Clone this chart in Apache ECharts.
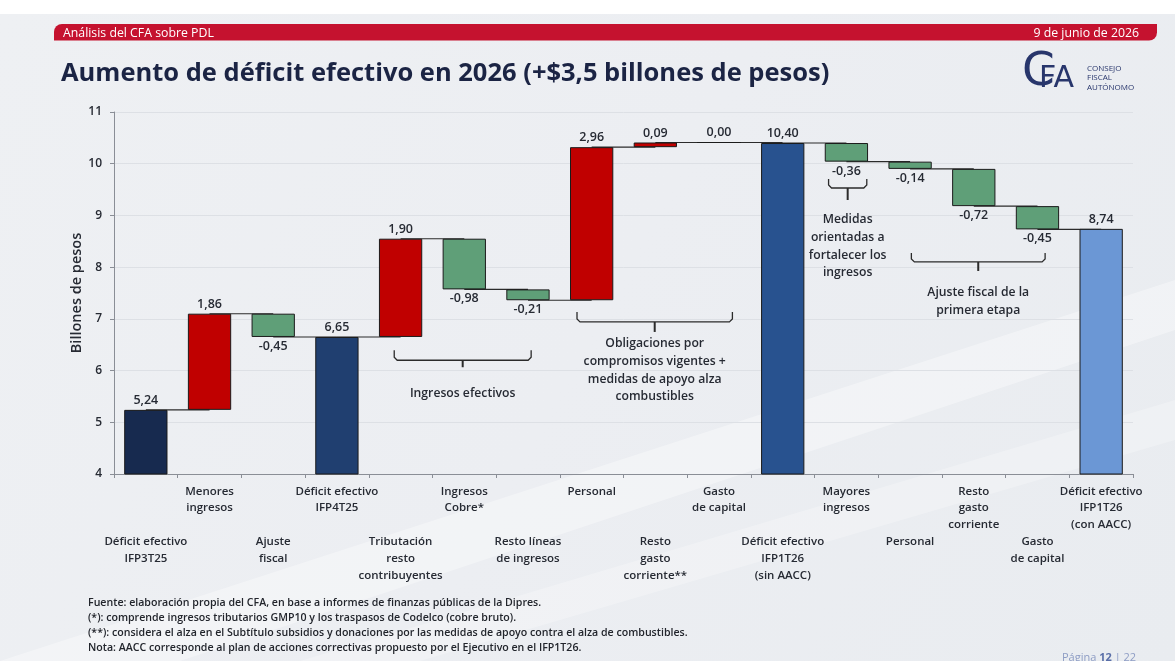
<!DOCTYPE html>
<html><head><meta charset="utf-8">
<script src="https://cdn.jsdelivr.net/npm/echarts@6/dist/echarts.min.js"></script>
<style>html,body{margin:0;padding:0;background:#fff;}#c{width:1175px;height:661px;}</style>
</head><body><div id="c"></div>
<script>
// ---------- data ----------
const categories = [
  'Déficit efectivo\nIFP3T25', 'Menores\ningresos', 'Ajuste\nfiscal', 'Déficit efectivo\nIFP4T25',
  'Tributación\nresto\ncontribuyentes', 'Ingresos\nCobre*', 'Resto líneas\nde ingresos', 'Personal',
  'Resto\ngasto\ncorriente**', 'Gasto\nde capital', 'Déficit efectivo\nIFP1T26\n(sin AACC)', 'Mayores\ningresos',
  'Personal', 'Resto\ngasto\ncorriente', 'Gasto\nde capital', 'Déficit efectivo\nIFP1T26\n(con AACC)'
];
const values = [5.24, 1.86, -0.45, 6.65, 1.90, -0.98, -0.21, 2.96, 0.09, 0.00, 10.40, -0.36, -0.14, -0.72, -0.45, 8.74];
const isTotal = [true, false, false, true, false, false, false, false, false, false, true, false, false, false, false, true];
const yMin = 4, yMax = 11, yStep = 1;
const bracketGroups = [[4, 6], [7, 9], [11, 11], [12, 14]];
const bracketLabels = [
  'Ingresos efectivos',
  'Obligaciones por\ncompromisos vigentes +\nmedidas de apoyo alza\ncombustibles',
  'Medidas\norientadas a\nfortalecer los\ningresos',
  'Ajuste fiscal de la\nprimera etapa'
];
const headerLeft = 'Análisis del CFA sobre PDL';
const headerRight = '9 de junio de 2026';
const titleText = 'Aumento de déficit efectivo en 2026 (+$3,5 billones de pesos)';
const yAxisName = 'Billones de pesos';
const logoSmall = 'CONSEJO\nFISCAL\nAUTÓNOMO';
const footnotes = [
  'Fuente: elaboración propia del CFA, en base a informes de finanzas públicas de la Dipres.',
  '(*): comprende ingresos tributarios GMP10 y los traspasos de Codelco (cobre bruto).',
  '(**): considera el alza en el Subtítulo subsidios y donaciones por las medidas de apoyo contra el alza de combustibles.',
  'Nota: AACC corresponde al plan de acciones correctivas propuesto por el Ejecutivo en el IFP1T26.'
];

// ---------- styles ----------
const FONT = '"Open Sans", Lato, sans-serif';
const INK = '#262a33';
const NAVY = '#28366c';
const totalColors = ['#172a4f', '#203f70', '#28528f', '#6b97d5'];
const upColor = '#c00000';
const downColor = '#5f9f78';
const bracketGeom = [
  { dl: -0.10, dr: 0.05, line: 6.20, hook: 10, tick: 7, textDy: 17 },
  { dl: -0.23, dr: 0.21, line: 6.94, hook: 10, tick: 10, textDy: 3 },
  { dl: -0.28, dr: 0.32, line: 9.53, hook: 9, tick: 12, textDy: 11 },
  { dl: 0.02, dr: 0.12, line: 8.10, hook: 9, tick: 9, textDy: 13 }
];

// ---------- waterfall computation ----------
let running = 0, totalIdx = 0;
const baseData = [], barData = [], levels = [];
const fmt = v => v.toFixed(2).replace('.', ',');
values.forEach((v, i) => {
  if (isTotal[i]) {
    baseData.push(0); running = v;
    barData.push({ value: v, itemStyle: { color: totalColors[totalIdx++] }, label: { position: 'top' } });
  } else {
    const s = running, e = running + v;
    baseData.push(Math.min(s, e));
    barData.push({
      value: Math.abs(v),
      itemStyle: { color: v >= 0 ? upColor : downColor },
      label: { position: v >= 0 ? 'top' : 'bottom' }
    });
    running = e;
  }
  levels.push(running);
});
const connectorData = levels.slice(0, -1).map((l, i) => [i, l]);

const chart = echarts.init(document.getElementById('c'), null, { renderer: 'canvas' });

const option = {
  backgroundColor: 'transparent',
  animation: false,
  grid: { left: 114, right: 42, top: 112, bottom: 187, containLabel: false },
  graphic: [
    { type: 'rect', z: -10, shape: { x: 0, y: 0, width: 1175, height: 661 }, style: { fill: '#ffffff' } },
    { type: 'rect', z: -9, shape: { x: 0, y: 14, width: 1175, height: 647 },
      style: { fill: new echarts.graphic.LinearGradient(0, 0, 1, 1, [
        { offset: 0, color: '#eef0f3' }, { offset: 0.5, color: '#eceef2' }, { offset: 1, color: '#e9ecf0' }]) } },
    { type: 'polygon', z: -8, shape: { points: [[0, 661], [180, 661], [1175, 330], [1175, 280]] },
      style: { fill: 'rgba(255,255,255,0.35)' } },
    { type: 'polygon', z: -8, shape: { points: [[300, 661], [420, 661], [1175, 440], [1175, 400]] },
      style: { fill: 'rgba(255,255,255,0.25)' } },
    { type: 'rect', shape: { x: 54, y: 24, width: 1103, height: 16.5, r: [8, 0, 8, 0] }, style: { fill: '#c5122f' } },
    { type: 'text', style: { text: headerLeft, x: 63, y: 33, verticalAlign: 'middle', fill: '#fff',
      font: '12.3px ' + FONT } },
    { type: 'text', style: { text: headerRight, x: 1139, y: 33, align: 'right', verticalAlign: 'middle', fill: '#fff',
      font: '12.3px ' + FONT } },
    { type: 'text', style: { text: titleText, x: 61, y: 74, verticalAlign: 'middle', fill: '#1b2444',
      font: 'bold 25.5px ' + FONT } },
    { type: 'text', style: { text: 'C', x: 1022, y: 73, verticalAlign: 'middle', fill: NAVY,
      font: '47px "DejaVu Sans"' } },
    { type: 'text', style: { text: 'FA', x: 1039, y: 79, verticalAlign: 'middle', fill: NAVY,
      font: '30px "DejaVu Sans"' } },
    { type: 'text', style: { text: logoSmall, x: 1087, y: 78, verticalAlign: 'middle', fill: NAVY,
      font: '8px ' + FONT, lineHeight: 9.3 } },
    { type: 'text', style: { text: footnotes.join('\n'), x: 88, y: 595, fill: '#22252c',
      font: '600 10.6px ' + FONT, lineHeight: 15 } },
    { type: 'text', style: { text: '{a|Página }{b|12}{a| | 22}', x: 1062, y: 658, verticalAlign: 'middle',
      rich: { a: { fill: '#8d9cc4', font: '11px ' + FONT }, b: { fill: '#5a6fa8', font: 'bold 11px ' + FONT } } } }
  ],
  xAxis: {
    type: 'category',
    data: categories,
    axisLine: { lineStyle: { color: '#8a8e96', width: 1 } },
    axisTick: { show: true, length: 4, interval: 0, lineStyle: { color: '#8a8e96' } },
    axisLabel: {
      interval: 0, margin: 9, color: INK, fontFamily: FONT, fontWeight: 600, fontSize: 11.5, lineHeight: 16.8, align: 'center',
      formatter: (v, i) => (i % 2 === 0 ? '\n\n\n' : '') + v
    },
    splitLine: { show: false }
  },
  yAxis: {
    type: 'value', min: yMin, max: yMax, interval: yStep,
    name: yAxisName, nameLocation: 'middle', nameGap: 30, nameRotate: 90, nameMoveOverlap: false,
    nameTextStyle: { color: INK, fontFamily: FONT, fontWeight: 600, fontSize: 14.5 },
    axisLine: { show: true, lineStyle: { color: '#8a8e96' } },
    axisTick: { show: true, length: 4, lineStyle: { color: '#8a8e96' } },
    axisLabel: { color: INK, fontFamily: FONT, fontWeight: 600, fontSize: 12, margin: 12 },
    splitLine: { show: true, lineStyle: { color: '#dde0e5', width: 1 } }
  },
  series: [
    {
      type: 'custom', name: 'connectors', z: 1,
      renderItem: (params, api) => {
        const p = api.coord([api.value(0), api.value(1)]);
        const bw = api.size([1, 0])[0];
        return { type: 'line', shape: { x1: p[0], y1: p[1], x2: p[0] + bw, y2: p[1] },
          style: { stroke: '#2b2b2b', lineWidth: 1.1 } };
      },
      data: connectorData
    },
    {
      type: 'bar', name: 'base', stack: 'w', barCategoryGap: '32%', z: 2,
      itemStyle: { color: 'transparent' }, emphasis: { disabled: true },
      data: baseData
    },
    {
      type: 'bar', name: 'delta', stack: 'w', barCategoryGap: '32%', z: 3,
      itemStyle: { borderColor: '#1b1b1b', borderWidth: 1 },
      label: {
        show: true, distance: 3, color: INK, fontFamily: FONT, fontWeight: 600, fontSize: 12.5,
        formatter: p => fmt(values[p.dataIndex])
      },
      data: barData
    },
    {
      type: 'custom', name: 'brackets', z: 4,
      renderItem: (params, api) => {
        const i = params.dataIndex, g = bracketGeom[i];
        const bw = api.size([1, 0])[0];
        const pL = api.coord([api.value(0), g.line]);
        const pR = api.coord([api.value(1), g.line]);
        const L = pL[0] + g.dl * bw, R = pR[0] + g.dr * bw, y = pL[1], C = (L + R) / 2, c = 3;
        return {
          type: 'group', children: [
            { type: 'polyline', shape: { points: [[L, y - g.hook], [L, y - c], [L + c, y], [R - c, y], [R, y - c], [R, y - g.hook]] },
              style: { stroke: '#2b2b2b', lineWidth: 1.3, fill: null } },
            { type: 'line', shape: { x1: C, y1: y, x2: C, y2: y + g.tick }, style: { stroke: '#2b2b2b', lineWidth: 2 } },
            { type: 'text', style: { text: bracketLabels[i], x: C, y: y + g.tick + g.textDy, align: 'center',
              verticalAlign: 'top', fill: INK, font: '600 12.2px ' + FONT, lineHeight: 17.7 } }
          ]
        };
      },
      data: bracketGroups.map(g => [g[0], g[1]])
    }
  ]
};
chart.setOption(option);
</script>
</body></html>
